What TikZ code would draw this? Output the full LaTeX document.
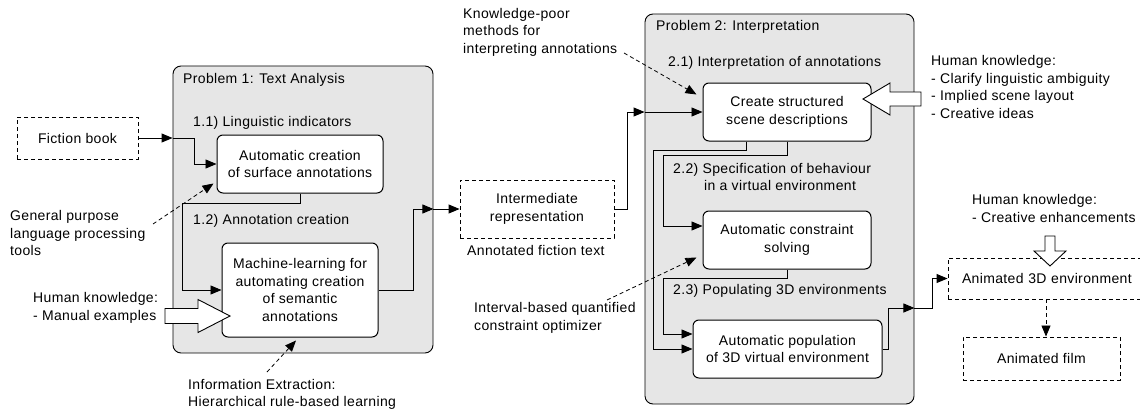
\documentclass[tikz,border=0pt]{standalone}
\usepackage{fontspec}
\setmainfont{Liberation Sans}[LetterSpace=2.5]
\usetikzlibrary{arrows.meta,calc}
\definecolor{panelgray}{RGB}{230,230,230}
\tikzset{
  every node/.style={font=\fontsize{14}{17.5}\selectfont},
  txt/.style={inner sep=0pt, align=left, anchor=west},
  panel/.style={draw, line width=0.9pt, rounded corners=8pt, fill=panelgray, inner sep=0pt},
  procbox/.style={draw, line width=1pt, rounded corners=6pt, fill=white, align=center, inner sep=0pt},
  databox/.style={draw, line width=0.9pt, dash pattern=on 4pt off 3pt, align=center, inner sep=0pt},
  arr/.style={line width=0.9pt, -{Triangle[length=11pt,width=9pt]}},
  hintarr/.style={line width=0.8pt, dash pattern=on 4pt off 3pt, -{Triangle[length=11pt,width=9pt,sep=0pt]}},
  hollow/.style={draw, line width=0.9pt, fill=white, line join=miter},
}
\begin{document}
\begin{tikzpicture}[x=1pt,y=-1pt]
\useasboundingbox (0,0) rectangle (1140,412);

% ---------- panels ----------
\node[panel, minimum width=260pt, minimum height=287pt] (p1) at (303,209.5) {};
\node[panel, minimum width=269pt, minimum height=390pt] (p2) at (779.5,209) {};

\node[txt] (p1title) at (183,80) {Problem 1: Text Analysis};
\node[txt] (s11) at (193,123) {1.1) Linguistic indicators};
\node[txt] (s12) at (193,221) {1.2) Annotation creation};

\node[txt] (p2title) at (656,27) {Problem 2: Interpretation};
\node[txt] (s21) at (668,63) {2.1) Interpretation of annotations};
\node[txt] (s22) at (673,177) {2.2) Specification of behaviour\\\hspace*{31pt}in a virtual environment};
\node[txt] (s23) at (673,291) {2.3) Populating 3D environments};

% ---------- process boxes ----------
\node[procbox, minimum width=166pt, minimum height=58pt] (b1) at (300,164) {Automatic creation\\of surface annotations};
\node[procbox, minimum width=156pt, minimum height=94pt] (b2) at (300,290) {Machine-learning for\\automating creation\\of semantic\\annotations};
\node[procbox, minimum width=168pt, minimum height=58pt] (b21) at (787,112) {Create structured\\scene descriptions};
\node[procbox, minimum width=168pt, minimum height=58pt] (b22) at (787,240) {Automatic constraint\\solving};
\node[procbox, minimum width=189pt, minimum height=58pt] (b23) at (787.5,349) {Automatic population\\of 3D virtual environment};

% ---------- data boxes ----------
\node[databox, minimum width=121pt, minimum height=42pt] (fb) at (77.5,138) {Fiction book};
\node[databox, minimum width=154pt, minimum height=58pt] (ir) at (537,209) {Intermediate\\representation};
\node[txt] (irlabel) at (467,250) {Annotated fiction text};
\node[databox, minimum width=199pt, minimum height=41pt, text width=199pt, align=left] (a3d) at (1047.5,278.5) {\hspace*{14pt}Animated 3D environment};
\node[databox, minimum width=157pt, minimum height=43pt] (film) at (1041.5,358.5) {Animated film};

% ---------- side notes ----------
\node[txt] (gp) at (10,233) {General purpose\\language processing\\tools};
\node[txt] (hk1) at (33,308) {Human knowledge:\\- Manual examples};
\node[txt] (ie) at (188,394.5) {Information Extraction:\\Hierarchical rule-based learning};
\node[txt] (kp) at (463,32) {Knowledge-poor\\methods for\\interpreting annotations};
\node[txt] (iq) at (474,318) {Interval-based quantified\\constraint optimizer};
\node[txt] (hk2) at (931,87) {Human knowledge:\\- Clarify linguistic ambiguity\\- Implied scene layout\\- Creative ideas};
\node[txt] (hk3) at (972,208.5) {Human knowledge:\\- Creative enhancements};

% ---------- main flow ----------
\coordinate (p1in) at (fb.east -| p1.west);
\draw[arr] (fb.east) -- (p1in);
\draw[arr] (p1in) -- ++(22,0) |- (b1.west);

\draw[arr] (b1.south) -- ++(0,10) -| ([xshift=10pt]p1.west |- b2.west) -- (b2.west);

\coordinate (p1out) at (p1.east |- ir.west);
\draw[arr] (b2.east) -- ++(35,0) |- (p1out);
\draw[arr] (p1out) -- (ir.west);

\coordinate (p2in) at (p2.west |- b21.west);
\draw[arr] (ir.east) -- ++(13,0) |- (p2in);
\draw[arr] (p2in) -- (b21.west);

\draw[arr] ([xshift=-41pt]b21.south) -- ++(0,9) -| ([xshift=9pt]p2.west |- b23.west) -- (b23.west);
\draw[arr] (b21.south) -- ++(0,14) -| ([xshift=19pt]p2.west |- 0,226) -- ([yshift=14pt]b22.west);
\draw[arr] (b22.south) -- ++(0,9) -| ([xshift=19pt]p2.west |- 0,334) -- ([yshift=15pt]b23.west);

\coordinate (p2out) at (p2.east |- 0,308);
\draw[arr] (b23.east) -- ++(6,0) |- (p2out);
\draw[arr] (p2out) -- ++(18,0) |- (a3d.west);

\draw[hintarr] ([xshift=-1.5pt]a3d.south) -- ([xshift=-1.5pt]a3d.south |- film.north);

% ---------- supporting knowledge (dashed) ----------
\coordinate (gpend) at (153,224);
\draw[hintarr] (gpend) -- ([shift={(-3pt,10pt)}]b1.south west);
\coordinate (ieend) at (267,372);
\draw[hintarr] (ieend) -- ([shift={(-4pt,-3pt)}]b2.south);
\coordinate (kpend) at (624,53);
\draw[hintarr] (kpend) -- ([shift={(-6pt,-12pt)}]b21.north west);
\coordinate (iqend) at (607,300);
\draw[hintarr] (iqend) -- ([shift={(-6pt,12pt)}]b22.south west);

% ---------- human input (hollow arrows) ----------
\coordinate (hkin1) at (230,316);
\draw[hollow] (hkin1) -- ++(-32,-16.5) -- ++(0,9) -- ++(-33,0) -- ++(0,15) -- ++(33,0) -- ++(0,9) -- cycle;
\coordinate (hkin2) at (863,99);
\draw[hollow] (hkin2) -- ++(27,-16) -- ++(0,9) -- ++(31,0) -- ++(0,14) -- ++(-31,0) -- ++(0,9) -- cycle;
\coordinate (hkin3) at (1050,266);
\draw[hollow] (hkin3) -- ++(-16,-15) -- ++(11,0) -- ++(0,-15) -- ++(10,0) -- ++(0,15) -- ++(11,0) -- cycle;
\end{tikzpicture}
\end{document}
